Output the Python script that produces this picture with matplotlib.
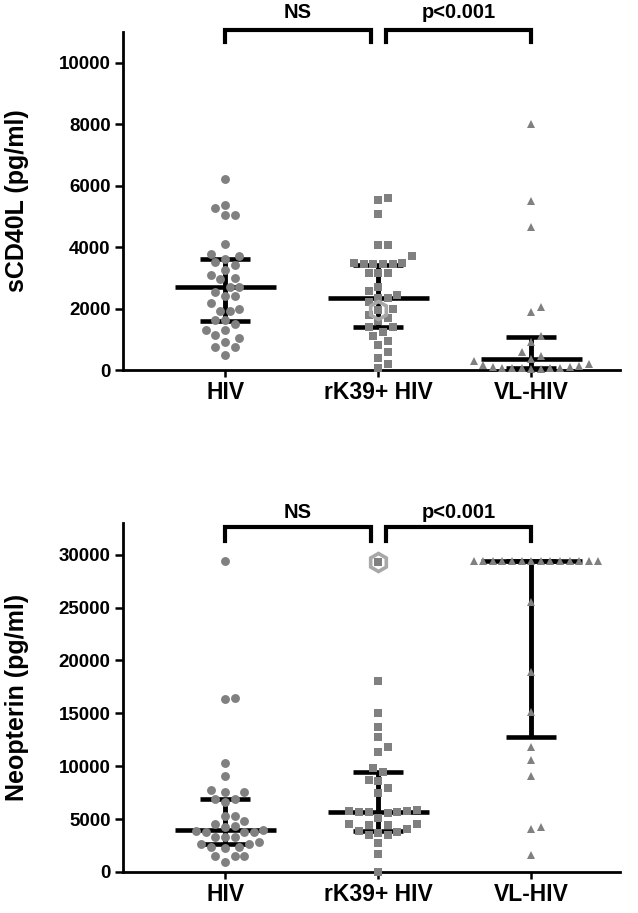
import matplotlib
matplotlib.use('Agg')
import matplotlib.pyplot as plt
import numpy as np

plt.rcParams['font.family'] = ['Liberation Sans', 'DejaVu Sans']
plt.rcParams['font.weight'] = 'bold'

# ---------------- data ----------------
groups = ['HIV', 'rK39+ HIV', 'VL-HIV']

scd40l_hiv = [6220, 5370, 5270, 5030, 5030, 4100, 3780, 3720, 3610, 3500, 3420,
              3260, 3100, 3000, 2950, 2700, 2700, 2550, 2400, 2400, 2180, 2000,
              1920, 1920, 1630, 1630, 1500, 1300, 1300, 1150, 1040, 900, 750, 750, 490]
scd40l_rk39 = [5600, 5540, 5080, 4070, 4070, 3710, 3490, 3450, 3450, 3450, 3450,
               3490, 3160, 3160, 3160, 2700, 2580, 2450, 2350, 2350, 2200, 2000,
               1800, 1700, 1600, 1400, 1400, 1250, 1100, 950, 800, 600, 400, 200, 50]
scd40l_vl = [8010, 5510, 4670, 2050, 1900, 1100, 900, 600, 450, 360, 300, 200,
             150, 120, 100, 100, 80, 80, 60, 50, 50, 40, 30]
scd40l_flagged = [1950]          # open-hexagon point in rK39+ HIV group

neo_hiv = [29420, 16460, 16370, 10310, 9080, 7760, 7570, 7570, 6900, 6620, 6900,
           5300, 5300, 4820, 4540, 4350, 3970, 3780, 3780, 3780, 3880, 4260,
           3310, 3310, 3310, 2840, 2650, 2370, 2270, 2370, 2650, 1510, 1510, 1510, 950]
neo_rk39 = [18070, 15040, 13720, 12770, 11830, 11350, 9840, 9460, 8610, 8700,
            7950, 7470, 5770, 5680, 5680, 5110, 5580, 5680, 5770, 5870, 4540,
            4540, 4450, 4450, 4070, 3500, 3780, 3500, 3690, 3880, 2740, 1700, 0]
neo_vl = [29400] * 14 + [25540, 18920, 15140, 11830, 10600, 9080, 4260, 4070, 1610]
neo_flagged = [29300]

scd40l_q1 = [1600, 1400, 50]
scd40l_med = [2700, 2340, 360]
scd40l_q3 = [3600, 3420, 1075]
neo_q1 = [2650, 3880, 12770]
neo_med = [3970, 5680, 29400]
neo_q3 = [6900, 9460, 29400]

sig_labels = ['NS', 'p<0.001']

# ---------------- figure ----------------
W, H = 638, 913
fig = plt.figure(figsize=(W / 100, H / 100), dpi=100)

PT_COLOR = '#808080'
markers = ['o', 's', '^']
msizes = [6.4, 5.8, 6.4]


def swarm_x(ax, xc, vals, diam_px, step_px):
    vals = np.asarray(vals, float)
    pts = ax.transData.transform(np.column_stack([np.full(len(vals), xc), vals]))
    ypx = pts[:, 1]
    order = np.argsort(ypx, kind='stable')
    placed = []
    offs = np.zeros(len(vals))
    cands = [0.0]
    for k in range(1, 60):
        cands += [k * step_px, -k * step_px]
    for i in order:
        y = ypx[i]
        chosen = 0.0
        for c in cands:
            if all((c - px) ** 2 + (y - py) ** 2 >= diam_px ** 2 for px, py in placed):
                chosen = c
                break
        placed.append((chosen, y))
        offs[i] = chosen
    ppu = ax.transData.transform((1, 0))[0] - ax.transData.transform((0, 0))[0]
    return xc + offs / ppu


def panel(rect, data, flagged, q1, med, q3, ylim, yticks, ylabel, br_y, br_drop, txt_y):
    ax = fig.add_axes(rect)
    ax.set_xlim(0.333, 3.58)
    ax.set_ylim(*ylim)
    for s in ['top', 'right']:
        ax.spines[s].set_visible(False)
    for s in ['left', 'bottom']:
        ax.spines[s].set_linewidth(2.0)
    ax.set_yticks(yticks)
    ax.set_yticklabels([str(t) for t in yticks], fontsize=13.5, fontweight='bold')
    ax.set_xticks([1, 2, 3])
    ax.set_xticklabels(groups, fontsize=16.5, fontweight='bold')
    ax.tick_params(axis='y', direction='out', length=6, width=1.8, pad=3)
    ax.tick_params(axis='x', direction='out', length=5, width=1.8, pad=3)
    ax.set_ylabel(ylabel, fontsize=18, fontweight='bold')
    ax.yaxis.set_label_coords(-0.19, 0.5)

    for i, vals in enumerate(data):
        xc = i + 1
        allv = list(vals) + (list(flagged) if i == 1 else [])
        xs = swarm_x(ax, xc, allv, 9.5, 4.8)
        n = len(vals)
        ax.plot(xs[:n], vals, linestyle='none', marker=markers[i], ms=msizes[i],
                color=PT_COLOR, mec=PT_COLOR, mew=0, zorder=4, clip_on=False)
        if i == 1:
            for fx, fv in zip(xs[n:], flagged):
                ax.plot([fx], [fv], linestyle='none', marker='s', ms=msizes[i],
                        color=PT_COLOR, mew=0, zorder=4, clip_on=False)
                ax.plot([fx], [fv], linestyle='none', marker='h', ms=13,
                        mfc='none', mec='#a8a8a8', mew=2.6, zorder=5, clip_on=False)
        # median / IQR
        ax.plot([xc, xc], [q1[i], q3[i]], color='k', lw=3.5, zorder=3,
                solid_capstyle='butt')
        ax.plot([xc - 0.33, xc + 0.33], [med[i], med[i]], color='k', lw=3.3,
                zorder=3, solid_capstyle='butt')
        for q in (q1[i], q3[i]):
            ax.plot([xc - 0.165, xc + 0.165], [q, q], color='k', lw=3.3,
                    zorder=3, solid_capstyle='butt')

    # significance brackets
    spans = [(1.0, 1.95), (2.05, 3.0)]
    for (a, b), lab in zip(spans, sig_labels):
        ax.plot([a, a, b, b], [br_drop, br_y, br_y, br_drop], color='k', lw=3.0,
                clip_on=False, solid_joinstyle='miter', zorder=6)
        ax.text((a + b) / 2, txt_y, lab, ha='center', va='center', fontsize=14.5,
                fontweight='bold', clip_on=False)
    return ax


panel([123 / W, 1 - 370 / H, 497 / W, 338 / H],
      [scd40l_hiv, scd40l_rk39, scd40l_vl], scd40l_flagged,
      scd40l_q1, scd40l_med, scd40l_q3,
      (0, 11000), [0, 2000, 4000, 6000, 8000, 10000], 'sCD40L (pg/ml)',
      11075, 10680, 11640)

panel([123 / W, 1 - 872 / H, 497 / W, 349 / H],
      [neo_hiv, neo_rk39, neo_vl], neo_flagged,
      neo_q1, neo_med, neo_q3,
      (0, 33000), [0, 5000, 10000, 15000, 20000, 25000, 30000], 'Neopterin (pg/ml)',
      32640, 31320, 34000)

fig.savefig('out.png', dpi=100)
